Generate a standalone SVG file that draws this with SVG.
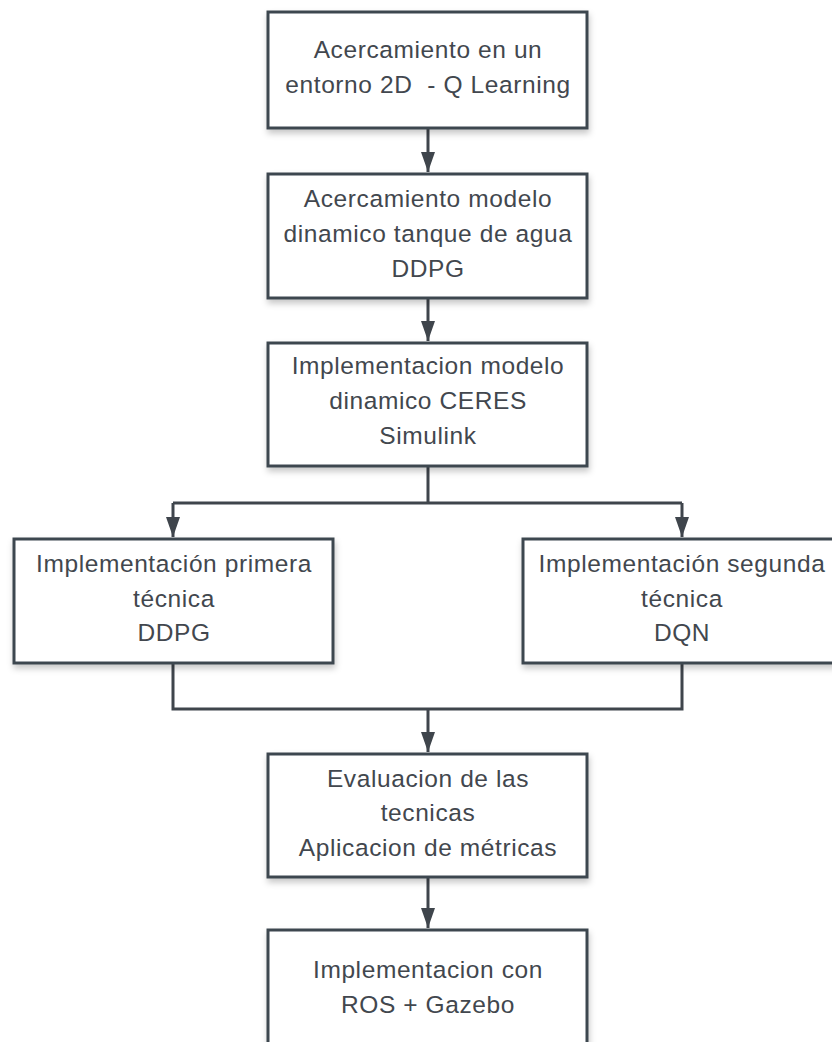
<svg xmlns="http://www.w3.org/2000/svg" width="832" height="1042" viewBox="0 0 832 1042">
  <style>
    .box { fill: #ffffff; stroke: #3d4650; stroke-width: 3; filter: url(#shadow); }
    .lbl { font-family: "Liberation Sans", Arial, sans-serif; font-size: 24.5px; letter-spacing: 0.6px; fill: #42474e; text-anchor: middle; }
    .wire { fill: none; stroke: #3f454c; stroke-width: 3; }
    .arrow { marker-end: url(#head); }
  </style>
  <defs>
    <filter id="shadow" x="-10%" y="-10%" width="125%" height="135%">
      <feDropShadow dx="1" dy="4" stdDeviation="3" flood-color="#000000" flood-opacity="0.22"/>
    </filter>
    <marker id="head" viewBox="0 0 20 14" refX="20" refY="7" markerWidth="20" markerHeight="14" markerUnits="userSpaceOnUse" orient="auto">
      <path d="M0,0 L20,7 L0,14 z" fill="#3f454c"/>
    </marker>
  </defs>

  <rect width="832" height="1042" fill="#ffffff"/>

  <!-- connectors -->
  <g id="connectors">
    <path class="wire arrow" d="M428,128 V172"/>
    <path class="wire arrow" d="M428,298 V341"/>
    <path class="wire" d="M428,466 V503 M173,503 H682"/>
    <path class="wire arrow" d="M173,503 V537"/>
    <path class="wire arrow" d="M682,503 V537"/>
    <path class="wire" d="M173,663 V709 H682 V663"/>
    <path class="wire arrow" d="M428,709 V752"/>
    <path class="wire arrow" d="M428,877 V928"/>
  </g>

  <g id="n1">
    <rect class="box" x="268" y="12" width="319" height="116"/>
    <text class="lbl" x="428" y="58">Acercamiento en un</text>
    <text class="lbl" x="428" y="93" xml:space="preserve">entorno 2D  - Q Learning</text>
  </g>

  <g id="n2">
    <rect class="box" x="268" y="174" width="319" height="124"/>
    <text class="lbl" x="428" y="207">Acercamiento modelo</text>
    <text class="lbl" x="428" y="242">dinamico tanque de agua</text>
    <text class="lbl" x="428" y="277">DDPG</text>
  </g>

  <g id="n3">
    <rect class="box" x="268" y="343" width="319" height="123"/>
    <text class="lbl" x="428" y="374">Implementacion modelo</text>
    <text class="lbl" x="428" y="409">dinamico CERES</text>
    <text class="lbl" x="428" y="444">Simulink</text>
  </g>

  <g id="n4">
    <rect class="box" x="14" y="539" width="319" height="124"/>
    <text class="lbl" x="174" y="572">Implementación primera</text>
    <text class="lbl" x="174" y="607">técnica</text>
    <text class="lbl" x="174" y="641">DDPG</text>
  </g>

  <g id="n5">
    <rect class="box" x="523" y="539" width="319" height="124"/>
    <text class="lbl" x="682" y="572">Implementación segunda</text>
    <text class="lbl" x="682" y="607">técnica</text>
    <text class="lbl" x="682" y="641">DQN</text>
  </g>

  <g id="n6">
    <rect class="box" x="268" y="754" width="319" height="123"/>
    <text class="lbl" x="428" y="787">Evaluacion de las</text>
    <text class="lbl" x="428" y="821">tecnicas</text>
    <text class="lbl" x="428" y="856">Aplicacion de métricas</text>
  </g>

  <g id="n7">
    <rect class="box" x="268" y="930" width="319" height="130"/>
    <text class="lbl" x="428" y="978">Implementacion con</text>
    <text class="lbl" x="428" y="1013">ROS + Gazebo</text>
  </g>
</svg>
